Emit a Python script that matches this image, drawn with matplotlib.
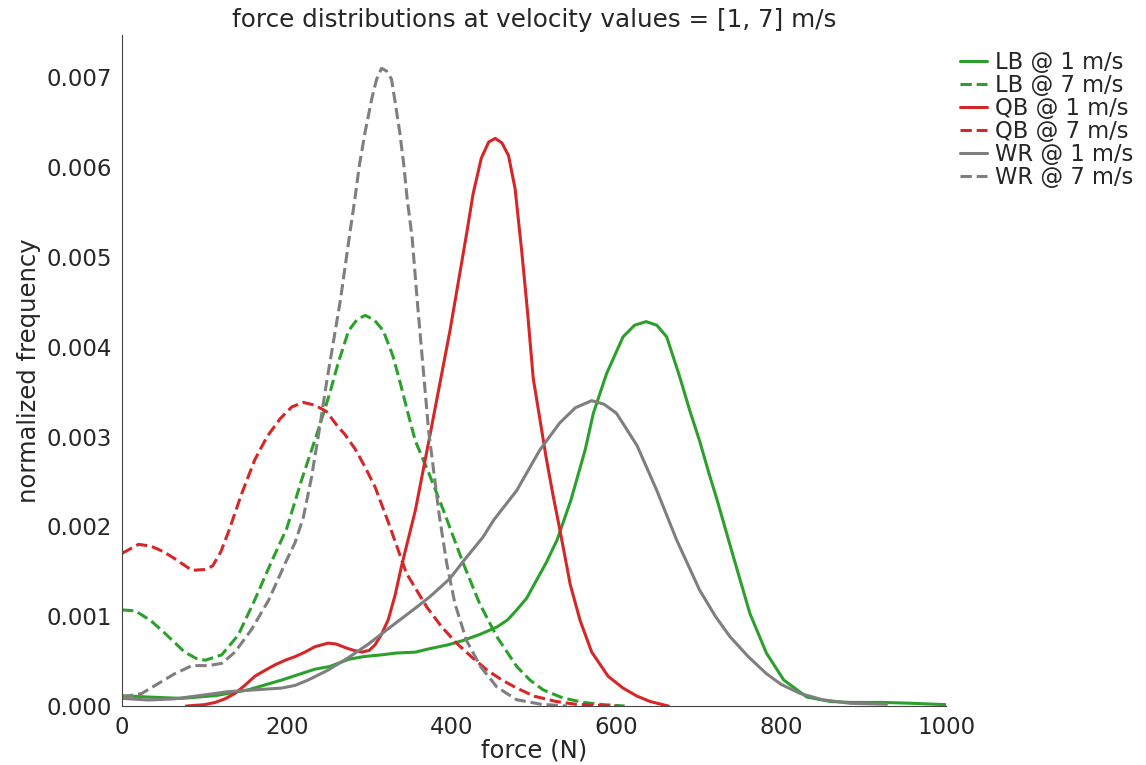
import matplotlib
matplotlib.use("Agg")
import matplotlib.pyplot as plt
import seaborn as sns

# values (force in N, frequency in 1e-3)
lb1_x = [0, 32, 72, 113, 153, 194, 234, 252, 275, 293, 315, 333, 356, 374, 395, 414, 435, 455, 468,
         479, 491, 503, 515, 528, 545, 562, 572, 588, 608, 622, 636, 649, 661, 677, 689, 701, 712,
         722, 742, 762, 782, 803, 831, 860, 884, 924, 960, 1000]
lb1_y = [0.115, 0.10, 0.085, 0.115, 0.18, 0.29, 0.41, 0.44, 0.52, 0.55, 0.57, 0.59, 0.60, 0.64, 0.68,
         0.73, 0.80, 0.88, 0.96, 1.07, 1.20, 1.40, 1.60, 1.85, 2.30, 2.85, 3.26, 3.70, 4.11, 4.24,
         4.28, 4.24, 4.11, 3.66, 3.29, 2.95, 2.60, 2.30, 1.66, 1.03, 0.59, 0.29, 0.10, 0.05, 0.04,
         0.04, 0.03, 0.015]

lb7_x = [0, 16, 35, 52, 76, 90, 101, 121, 141, 161, 182, 200, 218, 238, 252, 262, 275, 285, 295,
         306, 317, 329, 339, 347, 356, 372, 390, 414, 434, 455, 479, 495, 511, 535, 560, 585, 610]
lb7_y = [1.07, 1.06, 0.95, 0.81, 0.60, 0.53, 0.51, 0.57, 0.79, 1.18, 1.62, 1.98, 2.52, 3.07, 3.48,
         3.81, 4.18, 4.30, 4.35, 4.30, 4.18, 3.89, 3.55, 3.26, 2.95, 2.60, 2.18, 1.59, 1.14, 0.77,
         0.44, 0.29, 0.18, 0.09, 0.04, 0.015, 0.0]

qb1_x = [78, 100, 113, 125, 137, 149, 161, 174, 186, 198, 210, 222, 234, 250, 260, 271, 281, 291,
         300, 307, 315, 323, 331, 339, 356, 374, 398, 418, 426, 436, 445, 453, 461, 469, 477, 485,
         492, 499, 507, 515, 523, 531, 544, 556, 570, 590, 608, 625, 641, 663]
qb1_y = [0.0, 0.015, 0.04, 0.08, 0.14, 0.23, 0.33, 0.40, 0.46, 0.51, 0.55, 0.60, 0.66, 0.70, 0.69,
         0.65, 0.62, 0.60, 0.62, 0.68, 0.80, 0.96, 1.22, 1.55, 2.18, 3.03, 4.18, 5.25, 5.70, 6.10,
         6.28, 6.32, 6.27, 6.13, 5.76, 5.07, 4.40, 3.65, 3.20, 2.75, 2.35, 1.98, 1.35, 0.95, 0.60,
         0.33, 0.20, 0.11, 0.05, 0.0]

qb7_x = [0, 20, 35, 50, 64, 85, 100, 110, 120, 130, 145, 161, 176, 192, 206, 220, 234, 248, 262,
         270, 283, 295, 307, 323, 345, 370, 388, 406, 425, 443, 461, 479, 500, 527, 550, 570, 600]
qb7_y = [1.70, 1.80, 1.78, 1.72, 1.64, 1.51, 1.52, 1.56, 1.72, 1.96, 2.36, 2.74, 3.00, 3.20, 3.33,
         3.38, 3.35, 3.28, 3.11, 3.03, 2.86, 2.66, 2.44, 2.05, 1.48, 1.10, 0.88, 0.70, 0.54, 0.40,
         0.29, 0.20, 0.11, 0.05, 0.02, 0.01, 0.0]

wr1_x = [0, 32, 64, 97, 129, 161, 194, 210, 226, 250, 275, 299, 323, 356, 374, 398, 414, 438, 451,
         479, 507, 531, 550, 570, 585, 600, 625, 649, 673, 701, 720, 738, 760, 782, 800, 823, 850,
         884, 928]
wr1_y = [0.085, 0.067, 0.08, 0.12, 0.16, 0.18, 0.20, 0.23, 0.29, 0.40, 0.54, 0.69, 0.86, 1.09, 1.22,
         1.42, 1.61, 1.88, 2.07, 2.40, 2.85, 3.15, 3.32, 3.40, 3.36, 3.26, 2.90, 2.40, 1.85, 1.29,
         1.00, 0.77, 0.55, 0.36, 0.24, 0.14, 0.07, 0.03, 0.02]

wr7_x = [0, 24, 44, 64, 85, 105, 121, 137, 157, 178, 198, 210, 220, 230, 240, 248, 265, 277, 282,
         288, 295, 303, 309, 315, 321, 327, 332, 337, 342, 346, 352, 358, 372, 385, 394, 404, 418,
         435, 455, 479, 508, 540]
wr7_y = [0.10, 0.14, 0.25, 0.36, 0.45, 0.45, 0.475, 0.60, 0.85, 1.18, 1.59, 1.82, 2.10, 2.55, 3.11,
         3.59, 4.52, 5.30, 5.61, 6.02, 6.39, 6.76, 6.98, 7.10, 7.07, 6.98, 6.69, 6.39, 6.02, 5.65,
         5.22, 4.54, 3.07, 2.12, 1.59, 1.14, 0.73, 0.44, 0.21, 0.07, 0.02, 0.0]

series = [
    ("LB @ 1 m/s", lb1_x, lb1_y, "#2ca02c", "-"),
    ("LB @ 7 m/s", lb7_x, lb7_y, "#2ca02c", "--"),
    ("QB @ 1 m/s", qb1_x, qb1_y, "#d62728", "-"),
    ("QB @ 7 m/s", qb7_x, qb7_y, "#d62728", "--"),
    ("WR @ 1 m/s", wr1_x, wr1_y, "#7f7f7f", "-"),
    ("WR @ 7 m/s", wr7_x, wr7_y, "#7f7f7f", "--"),
]

sns.set_style("white")
plt.rcParams["font.family"] = ["DejaVu Sans"]
plt.rcParams["text.color"] = "#262626"
plt.rcParams["axes.labelcolor"] = "#262626"
plt.rcParams["xtick.color"] = "#262626"
plt.rcParams["ytick.color"] = "#262626"

fig = plt.figure(figsize=(11.46, 7.65), dpi=100)
ax = fig.add_axes([0.1065, 0.0771, 0.719, 0.877])

for label, xs, ys, col, ls in series:
    ax.plot(xs, [v / 1000 for v in ys], color=col, linestyle=ls, linewidth=2.2,
            solid_joinstyle="round", label=label)

ax.set_xlim(0, 1000)
ax.set_ylim(0, 0.00747)
ax.set_xticks([0, 200, 400, 600, 800, 1000])
ax.set_yticks([0, 0.001, 0.002, 0.003, 0.004, 0.005, 0.006, 0.007])
ax.set_yticklabels(["0.000", "0.001", "0.002", "0.003", "0.004", "0.005", "0.006", "0.007"])
ax.tick_params(labelsize=16.5)
ax.set_xlabel("force (N)", fontsize=17.5, labelpad=0)
ax.set_ylabel("normalized frequency", fontsize=17.5)
ax.set_title("force distributions at velocity values = [1, 7] m/s", fontsize=17.7, pad=6)
sns.despine(ax=ax)
for s in ["left", "bottom"]:
    ax.spines[s].set_color("#444444")

ax.legend(loc="upper left", bbox_to_anchor=(0.82, 0.96), bbox_transform=fig.transFigure,
          frameon=False, fontsize=16.3, handlelength=1.2, handletextpad=0.35, labelspacing=0.0)

fig.savefig("out.png", dpi=100)
